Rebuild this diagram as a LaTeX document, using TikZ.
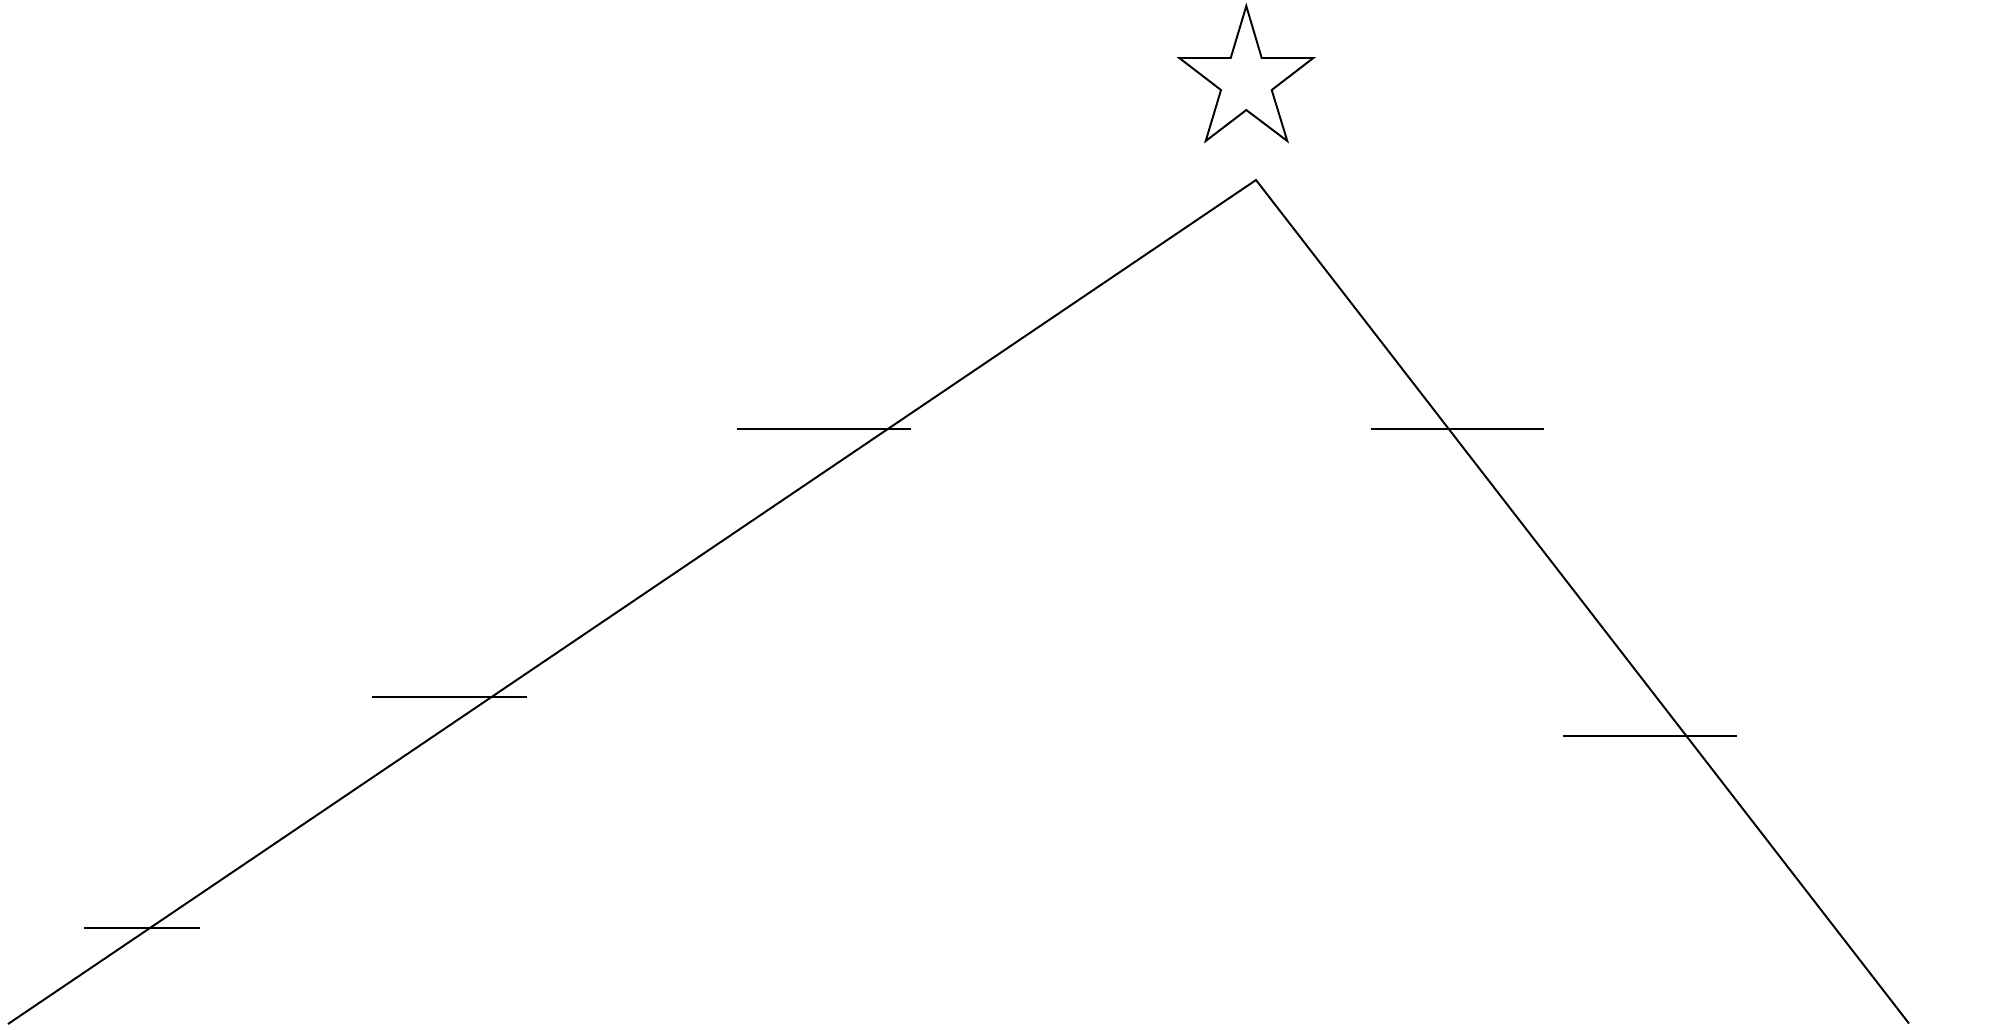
\documentclass[tikz,border=0pt]{standalone}
\begin{document}
\begin{tikzpicture}[x=0.01cm,y=-0.01cm,
  ln/.style={line width=0.55pt, line join=miter, draw=black}]
\useasboundingbox (0,0) rectangle (1998,1029);
% tree outline
\coordinate (left) at (8,1024);
\coordinate (apex) at (1256,180);
\coordinate (right) at (1909,1023.5);
\draw[ln] (left) -- (apex) -- (right);
% branches
\coordinate (b1a) at (84.3,928.3);  \coordinate (b1b) at (200,928.3);
\coordinate (b2a) at (372.3,697.2); \coordinate (b2b) at (526.7,697.2);
\coordinate (b3a) at (737.3,429);   \coordinate (b3b) at (910.7,429);
\coordinate (b4a) at (1370.7,429);  \coordinate (b4b) at (1544.3,429);
\coordinate (b5a) at (1562.7,735.7);\coordinate (b5b) at (1736.7,735.7);
\draw[ln] (b1a) -- (b1b);
\draw[ln] (b2a) -- (b2b);
\draw[ln] (b3a) -- (b3b);
\draw[ln] (b4a) -- (b4b);
\draw[ln] (b5a) -- (b5b);
% star
\draw[ln] (1246.3,6) -- (1261.7,58) -- (1313.3,58) -- (1271.7,90) -- (1287.3,141)
  -- (1246.3,110) -- (1205.7,141) -- (1221,90) -- (1179.3,58) -- (1230.7,58) -- cycle;
\end{tikzpicture}
\end{document}
